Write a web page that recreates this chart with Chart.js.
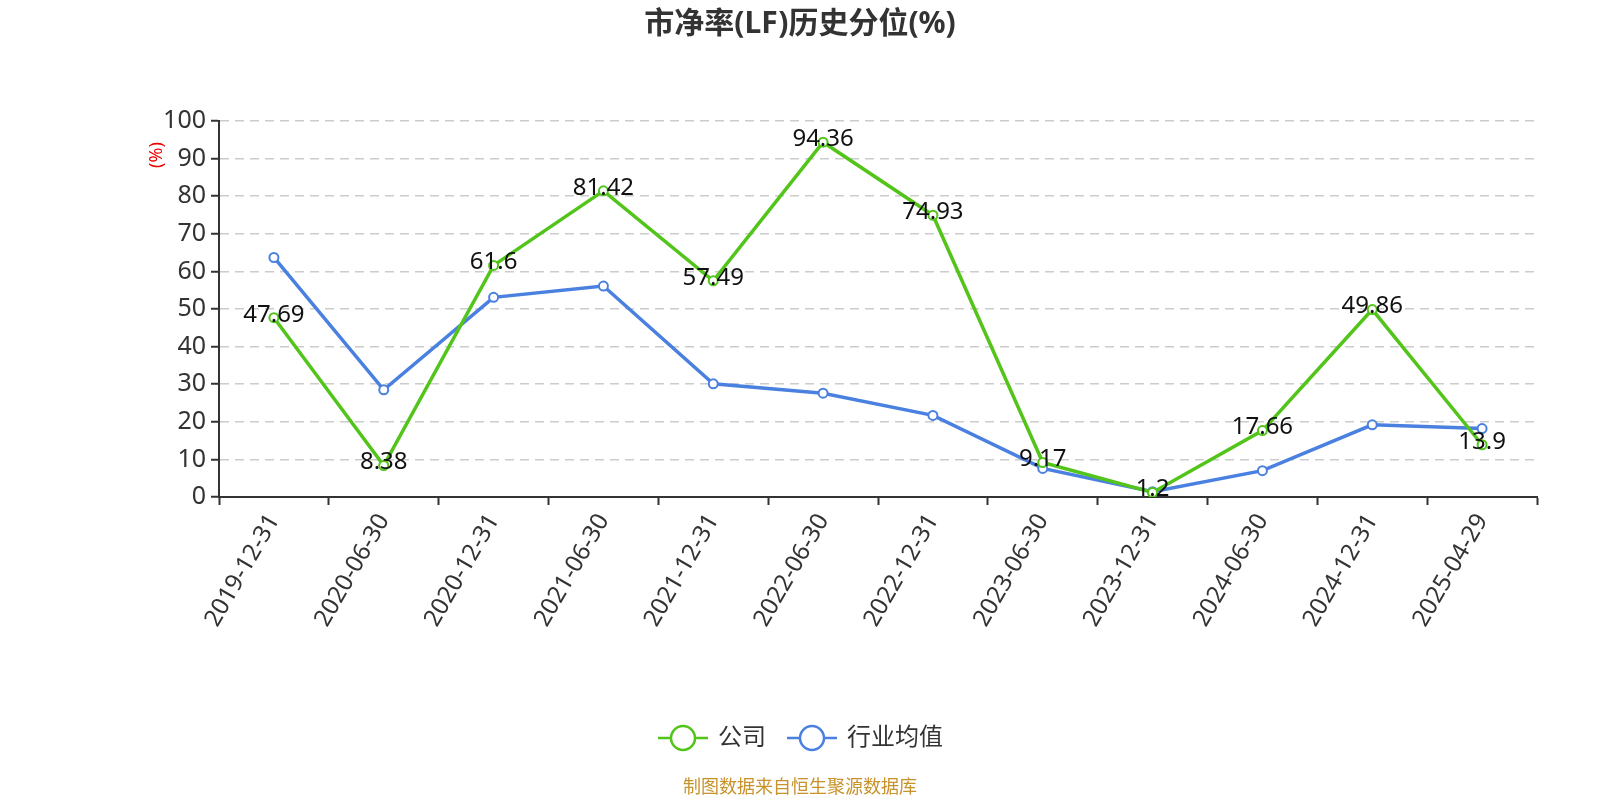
<!DOCTYPE html>
<html>
<head>
<meta charset="utf-8">
<script src="https://cdn.jsdelivr.net/npm/chart.js@4/dist/chart.umd.min.js"></script>
<style>
  body { margin: 0; background: #fff; }
  #wrap { width: 1600px; height: 800px; }
</style>
</head>
<body>
<div id="wrap"><canvas id="chart"></canvas></div>
<script>
// chart data
const dates = ['2019-12-31', '2020-06-30', '2020-12-31', '2021-06-30', '2021-12-31', '2022-06-30',
  '2022-12-31', '2023-06-30', '2023-12-31', '2024-06-30', '2024-12-31', '2025-04-29'];
const companyValues = [47.69, 8.38, 61.6, 81.42, 57.49, 94.36, 74.93, 9.17, 1.2, 17.66, 49.86, 13.9];
const industryValues = [63.7, 28.5, 53.1, 56.1, 30.1, 27.6, 21.7, 7.6, 1.4, 7.0, 19.2, 18.2];
const yTicks = [0, 10, 20, 30, 40, 50, 60, 70, 80, 90, 100];

const GREEN = '#52c41a';
const BLUE = '#4a80e0';
const FONT = '"Noto Sans", "Noto Sans CJK SC", sans-serif';

// draw title, y-axis name, value labels, legend and footer
const extras = {
  id: 'extras',
  afterDatasetsDraw(chart) {
    const ctx = chart.ctx;
    ctx.save();
    // value labels for the company series
    const meta = chart.getDatasetMeta(0);
    ctx.font = '24px ' + FONT;
    ctx.fillStyle = '#111';
    ctx.textAlign = 'center';
    ctx.textBaseline = 'middle';
    meta.data.forEach((pt, i) => {
      ctx.fillText(String(companyValues[i]), pt.x, pt.y - 3);
    });
    ctx.restore();
  },
  afterDraw(chart) {
    const ctx = chart.ctx;
    ctx.save();
    // title
    ctx.font = 'bold 30px ' + FONT;
    ctx.fillStyle = '#333';
    ctx.textAlign = 'center';
    ctx.textBaseline = 'middle';
    ctx.fillText('市净率(LF)历史分位(%)', 800, 24);

    // y axis name
    ctx.save();
    ctx.translate(157, 155);
    ctx.rotate(-Math.PI / 2);
    ctx.font = '18px ' + FONT;
    ctx.fillStyle = '#e00';
    ctx.fillText('(%)', 0, 0);
    ctx.restore();

    // legend
    const legendY = 738;
    const items = [
      { label: '公司', color: GREEN, x: 658 },
      { label: '行业均值', color: BLUE, x: 787 }
    ];
    items.forEach(it => {
      ctx.strokeStyle = it.color;
      ctx.lineWidth = 2.5;
      ctx.beginPath();
      ctx.moveTo(it.x, legendY);
      ctx.lineTo(it.x + 50, legendY);
      ctx.stroke();
      ctx.beginPath();
      ctx.arc(it.x + 25, legendY, 12, 0, Math.PI * 2);
      ctx.fillStyle = '#fff';
      ctx.fill();
      ctx.stroke();
      ctx.font = '24px ' + FONT;
      ctx.fillStyle = '#333';
      ctx.textAlign = 'left';
      ctx.fillText(it.label, it.x + 60, legendY);
    });

    // footer
    ctx.font = '18px ' + FONT;
    ctx.fillStyle = '#c8922a';
    ctx.textAlign = 'center';
    ctx.fillText('制图数据来自恒生聚源数据库', 800, 788);
    ctx.restore();
  }
};

new Chart(document.getElementById('chart'), {
  type: 'line',
  data: {
    labels: dates,
    datasets: [
      {
        label: '公司',
        data: companyValues,
        borderColor: GREEN,
        backgroundColor: '#fff',
        borderWidth: 3.5,
        pointRadius: 4.5,
        pointBorderWidth: 2,
        pointBackgroundColor: '#fff',
        pointBorderColor: GREEN,
        tension: 0
      },
      {
        label: '行业均值',
        data: industryValues,
        borderColor: BLUE,
        backgroundColor: '#fff',
        borderWidth: 3.5,
        pointRadius: 4.5,
        pointBorderWidth: 2,
        pointBackgroundColor: '#fff',
        pointBorderColor: BLUE,
        tension: 0
      }
    ]
  },
  options: {
    responsive: true,
    maintainAspectRatio: false,
    animation: false,
    layout: { padding: { left: 0, right: 63, top: 121, bottom: 153 } },
    plugins: {
      legend: { display: false },
      title: { display: false },
      tooltip: { enabled: false }
    },
    scales: {
      x: {
        offset: true,
        afterFit(scale) { scale.height = 150; },
        grid: {
          offset: true,
          drawOnChartArea: false,
          drawTicks: true,
          tickLength: 8,
          tickColor: '#333',
          tickWidth: 2
        },
        border: { color: '#333', width: 2 },
        ticks: {
          minRotation: 60,
          maxRotation: 60,
          autoSkip: false,
          padding: 4,
          color: '#333',
          font: { size: 24, family: FONT }
        }
      },
      y: {
        min: 0,
        max: 100,
        afterFit(scale) { scale.width = 219; },
        afterBuildTicks(scale) { scale.ticks = yTicks.map(v => ({ value: v })); },
        grid: {
          color: '#cccccc',
          lineWidth: 1.5,
          tickLength: 8,
          tickColor: '#333',
          tickWidth: 2,
          tickBorderDash: []
        },
        border: { color: '#333', width: 2, dash: [9, 6] },
        ticks: {
          padding: 5,
          color: '#333',
          font: { size: 25, family: FONT }
        }
      }
    }
  },
  plugins: [extras]
});
</script>
</body>
</html>
